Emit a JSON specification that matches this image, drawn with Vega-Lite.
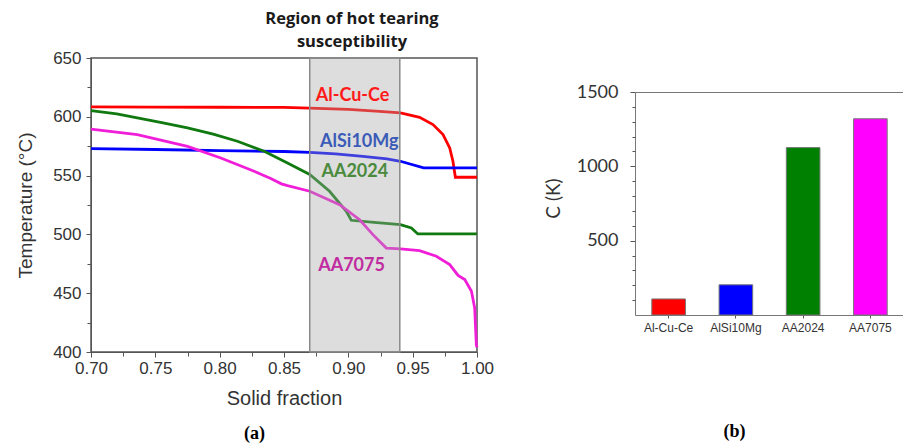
{
  "$schema": "https://vega.github.io/schema/vega-lite/v6.json",
  "background": "white",
  "padding": {"left": 15, "top": 9, "right": 0, "bottom": 0},
  "config": {
    "font": "Liberation Sans",
    "axis": {"grid": false, "labelFont": "Liberation Sans", "titleFont": "Liberation Sans", "labelColor": "#333", "titleColor": "#333", "domainColor": "#555", "tickColor": "#555", "titleFontWeight": "normal", "labelFlush": false, "labelOverlap": false},
    "title": {"font": "Open Sans"}
  },
  "datasets": {
    "curves": [
      {"alloy": "Al-Cu-Ce", "sf": 0.70, "T": 608.5},
      {"alloy": "Al-Cu-Ce", "sf": 0.75, "T": 608.3},
      {"alloy": "Al-Cu-Ce", "sf": 0.80, "T": 608.1},
      {"alloy": "Al-Cu-Ce", "sf": 0.85, "T": 608.0},
      {"alloy": "Al-Cu-Ce", "sf": 0.87, "T": 607.4},
      {"alloy": "Al-Cu-Ce", "sf": 0.90, "T": 606.3},
      {"alloy": "Al-Cu-Ce", "sf": 0.9243, "T": 604.7},
      {"alloy": "Al-Cu-Ce", "sf": 0.9405, "T": 603.3},
      {"alloy": "Al-Cu-Ce", "sf": 0.9554, "T": 599.6},
      {"alloy": "Al-Cu-Ce", "sf": 0.9658, "T": 593.4},
      {"alloy": "Al-Cu-Ce", "sf": 0.9736, "T": 584.9},
      {"alloy": "Al-Cu-Ce", "sf": 0.9788, "T": 573.5},
      {"alloy": "Al-Cu-Ce", "sf": 0.9813, "T": 562.2},
      {"alloy": "Al-Cu-Ce", "sf": 0.9832, "T": 548.6},
      {"alloy": "Al-Cu-Ce", "sf": 0.99, "T": 548.6},
      {"alloy": "Al-Cu-Ce", "sf": 1.0, "T": 548.6},
      {"alloy": "AlSi10Mg", "sf": 0.70, "T": 573.0},
      {"alloy": "AlSi10Mg", "sf": 0.75, "T": 572.2},
      {"alloy": "AlSi10Mg", "sf": 0.80, "T": 571.3},
      {"alloy": "AlSi10Mg", "sf": 0.85, "T": 570.5},
      {"alloy": "AlSi10Mg", "sf": 0.87, "T": 569.8},
      {"alloy": "AlSi10Mg", "sf": 0.89, "T": 568.5},
      {"alloy": "AlSi10Mg", "sf": 0.9113, "T": 566.4},
      {"alloy": "AlSi10Mg", "sf": 0.93, "T": 564.2},
      {"alloy": "AlSi10Mg", "sf": 0.9405, "T": 562.2},
      {"alloy": "AlSi10Mg", "sf": 0.9585, "T": 556.5},
      {"alloy": "AlSi10Mg", "sf": 1.0, "T": 556.5},
      {"alloy": "AA2024", "sf": 0.70, "T": 605.3},
      {"alloy": "AA2024", "sf": 0.72, "T": 602.5},
      {"alloy": "AA2024", "sf": 0.736, "T": 599.0},
      {"alloy": "AA2024", "sf": 0.755, "T": 595.0},
      {"alloy": "AA2024", "sf": 0.775, "T": 590.5},
      {"alloy": "AA2024", "sf": 0.795, "T": 585.2},
      {"alloy": "AA2024", "sf": 0.8138, "T": 579.2},
      {"alloy": "AA2024", "sf": 0.8346, "T": 570.7},
      {"alloy": "AA2024", "sf": 0.8527, "T": 560.7},
      {"alloy": "AA2024", "sf": 0.87, "T": 551.0},
      {"alloy": "AA2024", "sf": 0.8854, "T": 536.7},
      {"alloy": "AA2024", "sf": 0.8984, "T": 519.7},
      {"alloy": "AA2024", "sf": 0.9023, "T": 512.0},
      {"alloy": "AA2024", "sf": 0.92, "T": 510.3},
      {"alloy": "AA2024", "sf": 0.9405, "T": 508.3},
      {"alloy": "AA2024", "sf": 0.949, "T": 505.5},
      {"alloy": "AA2024", "sf": 0.954, "T": 500.4},
      {"alloy": "AA2024", "sf": 1.0, "T": 500.4},
      {"alloy": "AA7075", "sf": 0.70, "T": 589.6},
      {"alloy": "AA7075", "sf": 0.736, "T": 584.9},
      {"alloy": "AA7075", "sf": 0.775, "T": 574.9},
      {"alloy": "AA7075", "sf": 0.8009, "T": 565.0},
      {"alloy": "AA7075", "sf": 0.8268, "T": 553.7},
      {"alloy": "AA7075", "sf": 0.8397, "T": 547.5},
      {"alloy": "AA7075", "sf": 0.848, "T": 543.0},
      {"alloy": "AA7075", "sf": 0.8527, "T": 541.5},
      {"alloy": "AA7075", "sf": 0.87, "T": 536.7},
      {"alloy": "AA7075", "sf": 0.8932, "T": 525.3},
      {"alloy": "AA7075", "sf": 0.9088, "T": 512.5},
      {"alloy": "AA7075", "sf": 0.9191, "T": 499.8},
      {"alloy": "AA7075", "sf": 0.9295, "T": 488.4},
      {"alloy": "AA7075", "sf": 0.9405, "T": 487.7},
      {"alloy": "AA7075", "sf": 0.9554, "T": 486.2},
      {"alloy": "AA7075", "sf": 0.9684, "T": 481.4},
      {"alloy": "AA7075", "sf": 0.9788, "T": 474.3},
      {"alloy": "AA7075", "sf": 0.9853, "T": 465.2},
      {"alloy": "AA7075", "sf": 0.9905, "T": 461.6},
      {"alloy": "AA7075", "sf": 0.9957, "T": 451.6},
      {"alloy": "AA7075", "sf": 0.9982, "T": 437.4},
      {"alloy": "AA7075", "sf": 0.9995, "T": 406.0},
      {"alloy": "AA7075", "sf": 1.0, "T": 404.0}
    ],
    "labels": [
      {"alloy": "Al-Cu-Ce", "sf": 0.9033, "T": 618.0},
      {"alloy": "AlSi10Mg", "sf": 0.9085, "T": 578.3},
      {"alloy": "AA2024", "sf": 0.905, "T": 553.0},
      {"alloy": "AA7075", "sf": 0.9025, "T": 473.5}
    ],
    "bars": [
      {"alloy": "Al-Cu-Ce", "C": 108},
      {"alloy": "AlSi10Mg", "C": 203},
      {"alloy": "AA2024", "C": 1126},
      {"alloy": "AA7075", "C": 1320}
    ]
  },
  "spacing": 49,
  "hconcat": [
    {
      "width": 386,
      "height": 294,
      "view": {"stroke": "#555", "strokeWidth": 1.5},
      "title": {"text": ["Region of hot tearing", "susceptibility"], "fontSize": 16.5, "fontWeight": "bold", "color": "#1a1a1a", "lineHeight": 23, "offset": -1, "dx": 68, "anchor": "middle"},
      "layer": [
        {
          "data": {"name": "curves"},
          "mark": {"type": "line", "strokeWidth": 2.8},
          "encoding": {
            "x": {"field": "sf", "type": "quantitative", "scale": {"domain": [0.7, 1.0], "nice": false, "zero": false},
              "axis": {"orient": "bottom", "values": [0.7, 0.75, 0.8, 0.85, 0.9, 0.95, 1.0], "format": ".2f", "title": "Solid fraction", "labelFontSize": 17, "titleFontSize": 20, "tickSize": 5, "labelPadding": 3, "titlePadding": 12}},
            "y": {"field": "T", "type": "quantitative", "scale": {"domain": [400, 650], "nice": false, "zero": false},
              "axis": {"orient": "left", "values": [400, 450, 500, 550, 600, 650], "title": "Temperature (°C)", "labelFontSize": 17, "titleFontSize": 19, "tickSize": 5, "labelPadding": 5, "titlePadding": 17}},
            "color": {"field": "alloy", "type": "nominal", "scale": {"domain": ["Al-Cu-Ce", "AlSi10Mg", "AA2024", "AA7075"], "range": ["#ff0000", "#0000ff", "#107a10", "#f01ed8"]}, "legend": null}
          }
        },
        {
          "data": {"values": [{"start": 0.87, "end": 0.94}]},
          "mark": {"type": "rect", "fill": "#a6a6a6", "fillOpacity": 0.38, "stroke": "#8a8a8a", "strokeWidth": 1.5},
          "encoding": {
            "x": {"field": "start", "type": "quantitative", "scale": {"domain": [0.7, 1.0], "nice": false, "zero": false}, "axis": null},
            "x2": {"field": "end"}
          }
        },
        {
          "data": {"name": "labels"},
          "mark": {"type": "text", "font": "Lato", "fontSize": 18, "fontWeight": "bold", "baseline": "middle", "align": "center"},
          "encoding": {
            "x": {"field": "sf", "type": "quantitative", "scale": {"domain": [0.7, 1.0], "nice": false, "zero": false},
              "axis": {"orient": "bottom", "values": [0.725, 0.775, 0.825, 0.875, 0.925, 0.975], "labels": false, "domain": false, "tickSize": 4, "title": "(a)", "titleFont": "Liberation Serif", "titleFontSize": 18, "titleFontWeight": "bold", "titleColor": "#000", "titleX": 163, "titleY": 81, "titleBaseline": "middle"}},
            "y": {"field": "T", "type": "quantitative", "scale": {"domain": [400, 650], "nice": false, "zero": false},
              "axis": {"orient": "left", "values": [425, 475, 525, 575, 625], "labels": false, "domain": false, "tickSize": 4, "title": null}},
            "text": {"field": "alloy"},
            "color": {"field": "alloy", "type": "nominal", "scale": {"domain": ["Al-Cu-Ce", "AlSi10Mg", "AA2024", "AA7075"], "range": ["#ff1a1a", "#3b5bb8", "#4a8a3c", "#c02ca0"]}, "legend": null}
          }
        }
      ],
      "resolve": {"axis": {"x": "independent", "y": "independent"}, "scale": {"color": "independent"}}
    },
    {
      "width": 269,
      "height": 257,
      "view": {"stroke": null},
      "data": {"name": "bars"},
      "layer": [
        {
          "mark": {"type": "bar", "stroke": "#777", "strokeWidth": 1},
          "encoding": {
            "x": {"field": "alloy", "type": "nominal", "sort": null, "scale": {"paddingInner": 0.5, "paddingOuter": 0.25},
              "axis": {"orient": "bottom", "labelAngle": 0, "labelFontSize": 12, "tickSize": 3, "labelPadding": 4, "domainColor": "#777", "title": "(b)", "titleFont": "Liberation Serif", "titleFontSize": 18, "titleFontWeight": "bold", "titleColor": "#000", "titleX": 99, "titleY": 116, "titleBaseline": "middle"}},
            "y": {"field": "C", "type": "quantitative", "scale": {"domain": [0, 1500], "nice": false, "range": [257, 34]},
              "axis": {"orient": "left", "values": [500, 1000, 1500], "format": "d", "title": "C (K)", "titleFont": "Lato", "labelFont": "Lato", "labelFontSize": 18, "titleFontSize": 19, "tickSize": 5, "labelPadding": 12, "titlePadding": 12.5, "titleY": 140, "domainColor": "#777"}},
            "color": {"field": "alloy", "type": "nominal", "scale": {"domain": ["Al-Cu-Ce", "AlSi10Mg", "AA2024", "AA7075"], "range": ["#ff0000", "#0000ff", "#008000", "#ff00ff"]}, "legend": null}
          }
        },
        {
          "mark": {"type": "bar", "fillOpacity": 0, "strokeOpacity": 0},
          "encoding": {
            "x": {"field": "alloy", "type": "nominal", "sort": null,
              "axis": {"orient": "top", "offset": -34, "labels": false, "ticks": false, "title": null, "domainColor": "#777"}},
            "y": {"field": "C", "type": "quantitative",
              "axis": {"orient": "left", "values": [100, 200, 300, 400, 600, 700, 800, 900, 1100, 1200, 1300, 1400], "labels": false, "domain": false, "tickSize": 3, "title": null}}
          }
        }
      ],
      "resolve": {"axis": {"x": "independent", "y": "independent"}}
    }
  ]
}
